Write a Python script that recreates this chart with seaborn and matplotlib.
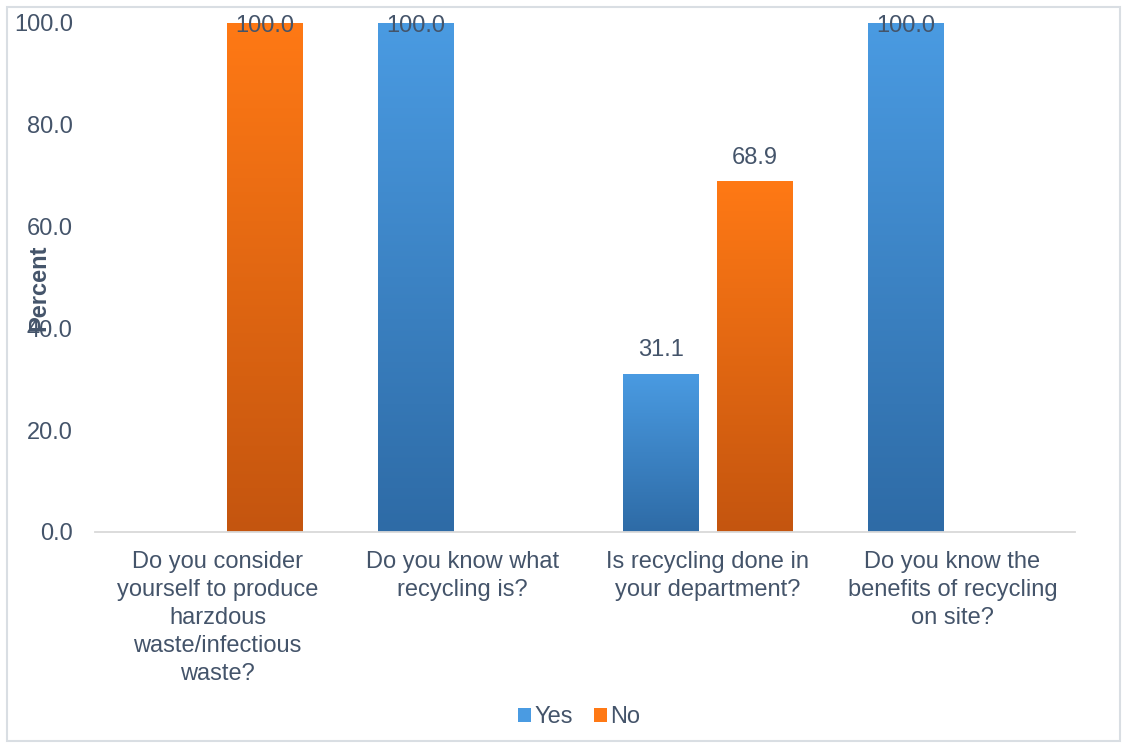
import matplotlib
matplotlib.use("Agg")
import matplotlib.pyplot as plt
import seaborn as sns
import numpy as np
import pandas as pd
from matplotlib.colors import LinearSegmentedColormap
from matplotlib.patches import Rectangle, Patch

categories = [
    "Do you consider\nyourself to produce\nharzdous\nwaste/infectious\nwaste?",
    "Do you know what\nrecycling is?",
    "Is recycling done in\nyour department?",
    "Do you know the\nbenefits of recycling\non site?",
]
yes_values = [0.0, 100.0, 31.1, 100.0]
no_values = [100.0, 0.0, 68.9, 0.0]
series = ["Yes", "No"]
y_ticks = [0, 20, 40, 60, 80, 100]

TEXT = "#44546A"
BLUE_TOP, BLUE_BOT = "#4A9BE2", "#2E6BA6"
ORANGE_TOP, ORANGE_BOT = "#FF7915", "#C4550F"
FS = 17

sns.set_theme(style="white")
plt.rcParams["font.family"] = ["Liberation Sans", "DejaVu Sans"]

df = pd.DataFrame({
    "Question": categories * 2,
    "Answer": ["Yes"] * len(categories) + ["No"] * len(categories),
    "Percent": yes_values + no_values,
})

fig = plt.figure(figsize=(11.27, 7.48), dpi=100)
W, H = 1127, 748
ax = fig.add_axes([95 / W, 1 - 532 / H, 980 / W, (532 - 23) / H])

sns.barplot(data=df, x="Question", y="Percent", hue="Answer", hue_order=series,
            palette={"Yes": BLUE_TOP, "No": ORANGE_TOP}, width=0.767, gap=0.193,
            ax=ax, errorbar=None, legend=False, linewidth=0)

ax.set_ylim(0, 100)
ax.set_xlim(-0.5, len(categories) - 0.5)

grad = np.linspace(0, 1, 256).reshape(-1, 1)
cmaps = {
    "Yes": LinearSegmentedColormap.from_list("b", [BLUE_TOP, BLUE_BOT]),
    "No": LinearSegmentedColormap.from_list("o", [ORANGE_TOP, ORANGE_BOT]),
}
n = len(categories)
for i, p in enumerate(ax.patches[: 2 * n]):
    key = series[i // n]
    h = p.get_height()
    if h <= 0:
        continue
    x0 = p.get_x()
    w = p.get_width()
    im = ax.imshow(grad, cmap=cmaps[key], aspect="auto",
                   extent=[x0, x0 + w, 0, h], origin="upper", zorder=p.get_zorder() + 0.1)
    im.set_clip_path(p)
    if h >= 95:
        ax.annotate(f"{h:.1f}", (x0 + w / 2, h), xytext=(0, -2), textcoords="offset points",
                    ha="center", va="center", fontsize=FS, color=TEXT, zorder=10,
                    annotation_clip=False)
    else:
        ax.annotate(f"{h:.1f}", (x0 + w / 2, h), xytext=(0, 17), textcoords="offset points",
                    ha="center", va="center", fontsize=FS, color=TEXT, zorder=10)

ax.set_yticks(y_ticks)
ax.set_yticklabels([f"{v:.1f}" for v in y_ticks], fontsize=FS, color=TEXT)
ax.tick_params(axis="y", length=0, pad=16)
ax.tick_params(axis="x", length=0, pad=14)
ax.set_xticks(range(n))
ax.set_xticklabels(categories, fontsize=FS, color=TEXT, linespacing=1.35, va="top")
ax.set_xlabel("")
ax.set_ylabel("Percent", fontsize=FS, fontweight="bold", color=TEXT)
ax.yaxis.set_label_coords(-45 / 980, 0.48)

for s in ["top", "right", "left"]:
    ax.spines[s].set_visible(False)
ax.spines["bottom"].set_color("#D9D9D9")
ax.spines["bottom"].set_linewidth(1.3)

handles = [Patch(facecolor=BLUE_TOP, edgecolor="none"), Patch(facecolor=ORANGE_TOP, edgecolor="none")]
fig.legend(handles, series, loc="center", bbox_to_anchor=(579 / W, 1 - 717 / H), ncol=2,
           frameon=False, fontsize=FS, labelcolor=TEXT, handlelength=0.55, handleheight=0.55,
           handletextpad=0.15, columnspacing=0.9)

fig.add_artist(Rectangle((7 / W, 7 / H), (1120 - 7) / W, (741 - 7) / H, transform=fig.transFigure,
                         fill=False, edgecolor="#D9DEE3", linewidth=1.5))

fig.savefig("out.png", dpi=100)
